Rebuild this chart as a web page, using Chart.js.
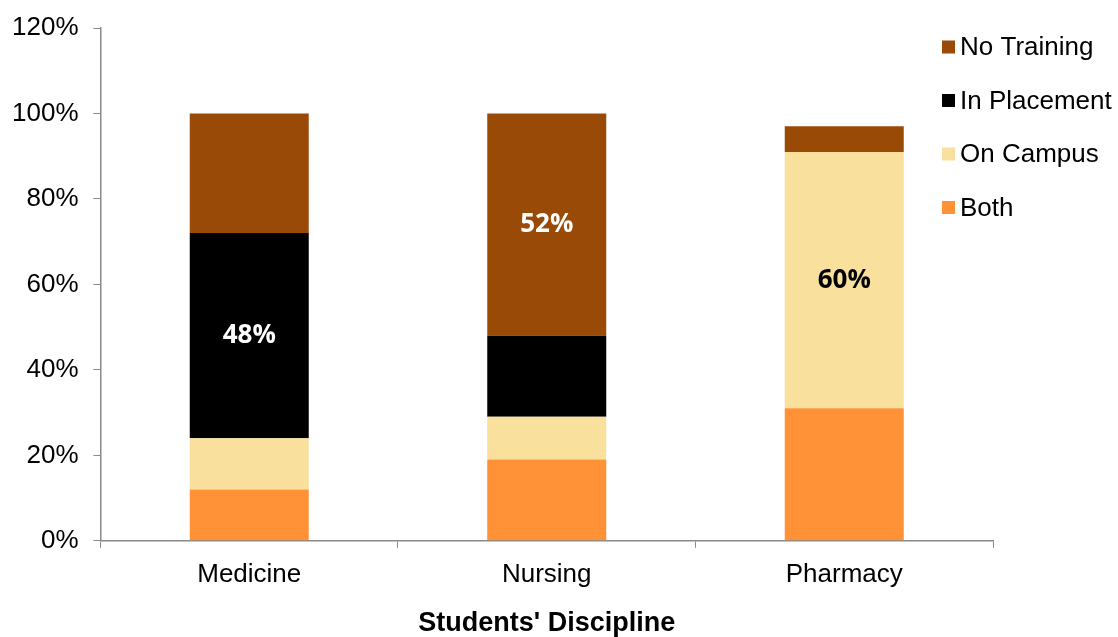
<!DOCTYPE html>
<html>
<head>
<meta charset="utf-8">
<script src="https://cdn.jsdelivr.net/npm/chart.js@4"></script>
<style>
  html, body { margin: 0; padding: 0; background: #fff; }
  #wrap { width: 1118px; height: 637px; }
</style>
</head>
<body>
<div id="wrap"><canvas id="myChart" width="1118" height="637"></canvas></div>
<script>
// categories and series (percent of students)
const disciplines = ['Medicine', 'Nursing', 'Pharmacy'];
const both = [12, 19, 31];
const onCampus = [12, 10, 60];
const inPlacement = [48, 19, 0];
const noTraining = [28, 52, 6];
// which segment carries a printed value in each bar
const labelledSeries = ['In Placement', 'No Training', 'On Campus'];
const yTicks = [0, 20, 40, 60, 80, 100, 120];

const font = "'Liberation Sans', Arial, sans-serif";

// data labels inside the highlighted segments
const valueLabels = {
    id: 'valueLabels',
    afterDatasetsDraw(chart) {
        const ctx = chart.ctx;
        ctx.save();
        ctx.font = "bold 26px 'Open Sans', sans-serif";
        ctx.textAlign = 'center';
        ctx.textBaseline = 'middle';
        labelledSeries.forEach((name, i) => {
            const di = chart.data.datasets.findIndex(d => d.label === name);
            const el = chart.getDatasetMeta(di).data[i];
            const ds = chart.data.datasets[di];
            ctx.fillStyle = ds.labelColor;
            ctx.fillText(ds.data[i] + '%', el.x, (el.y + el.base) / 2);
        });
        ctx.restore();
    }
};

// legend drawn in reverse order, overlapping the right edge like the original
const sideLegend = {
    id: 'sideLegend',
    afterDraw(chart) {
        const ctx = chart.ctx;
        ctx.save();
        ctx.font = '26px ' + font;
        ctx.textBaseline = 'middle';
        const sets = chart.data.datasets.slice().reverse();
        sets.forEach((ds, i) => {
            const y = 47 + i * 53.5;
            ctx.fillStyle = ds.backgroundColor;
            ctx.fillRect(942, y - 6.5, 13, 13);
            ctx.fillStyle = '#000';
            ctx.fillText(ds.label, 960, y + 1);
        });
        ctx.restore();
    }
};

const chart = new Chart(document.getElementById('myChart'), {
    type: 'bar',
    data: {
        labels: disciplines,
        datasets: [
            { label: 'Both', data: both, backgroundColor: '#FF9136', labelColor: '#000' },
            { label: 'On Campus', data: onCampus, backgroundColor: '#F9E09D', labelColor: '#000' },
            { label: 'In Placement', data: inPlacement, backgroundColor: '#000000', labelColor: '#fff' },
            { label: 'No Training', data: noTraining, backgroundColor: '#9A4A07', labelColor: '#fff' }
        ]
    },
    options: {
        responsive: false,
        animation: false,
        layout: { padding: { left: -3, right: 125, top: 9, bottom: 0 } },
        datasets: {
            bar: { categoryPercentage: 1, barPercentage: 0.4, borderWidth: 0 }
        },
        plugins: {
            legend: { display: false },
            tooltip: { enabled: false }
        },
        scales: {
            x: {
                stacked: true,
                grid: { display: true, drawOnChartArea: false, offset: true, tickLength: 7, color: '#898989' },
                border: { color: '#898989', width: 1.5 },
                ticks: { color: '#000', font: { family: font, size: 26 }, padding: 11 },
                title: {
                    display: true,
                    text: "Students' Discipline",
                    color: '#000',
                    font: { family: font, size: 27, weight: 'bold', lineHeight: 1.0 },
                    padding: { top: 9, bottom: 0 }
                }
            },
            y: {
                stacked: true,
                min: 0,
                max: 120,
                afterBuildTicks: axis => { axis.ticks = yTicks.map(v => ({ value: v })); },
                grid: { display: true, drawOnChartArea: false, tickLength: 7, color: '#898989' },
                border: { color: '#898989', width: 1.5 },
                ticks: {
                    color: '#000',
                    font: { family: font, size: 26, lineHeight: 1.0 },
                    padding: 15,
                    callback: v => v + '%'
                }
            }
        }
    },
    plugins: [valueLabels, sideLegend]
});
</script>
</body>
</html>
